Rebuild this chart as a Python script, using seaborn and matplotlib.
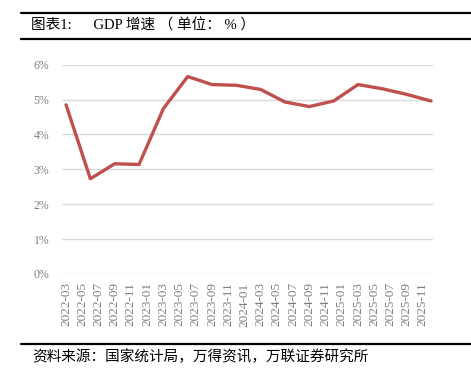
import pandas as pd
import matplotlib.pyplot as plt
import seaborn as sns

# GDP cumulative growth, quarterly (%)
quarters = ['2022-03', '2022-06', '2022-09', '2022-12',
            '2023-03', '2023-06', '2023-09', '2023-12',
            '2024-03', '2024-06', '2024-09', '2024-12',
            '2025-03', '2025-06', '2025-09', '2025-12']
gdp = [4.85, 2.73, 3.16, 3.14,
       4.74, 5.66, 5.43, 5.41,
       5.29, 4.93, 4.80, 4.96,
       5.43, 5.31, 5.15, 4.96]

# x-axis labels every two months
tick_labels = ['2022-03', '2022-05', '2022-07', '2022-09', '2022-11',
               '2023-01', '2023-03', '2023-05', '2023-07', '2023-09', '2023-11',
               '2024-01', '2024-03', '2024-05', '2024-07', '2024-09', '2024-11',
               '2025-01', '2025-03', '2025-05', '2025-07', '2025-09', '2025-11']

def month_index(s):
    y, m = s.split('-')
    return (int(y) - 2022) * 12 + int(m) - 3

df = pd.DataFrame({'month': [month_index(q) for q in quarters], 'gdp': gdp})

sns.set_style('white')
plt.rcParams['font.family'] = ['Liberation Serif', 'Noto Sans CJK SC']

fig = plt.figure(figsize=(4.71, 3.79), dpi=100)
ax = fig.add_axes([62 / 471, 1 - 274 / 379, (433 - 62) / 471, (274 - 64.7) / 379])

sns.lineplot(data=df, x='month', y='gdp', color='#c0504d', linewidth=2.4, ax=ax)

ax.set_ylim(0, 6)
ax.set_xlim(-0.5, 45.25)
ax.set_yticks(range(0, 7))
ax.set_yticklabels([f'{v}%' for v in range(0, 7)])
ax.set_xticks([month_index(t) for t in tick_labels])
ax.set_xticklabels(tick_labels, rotation=90)
ax.tick_params(axis='both', length=0, labelsize=8.5, labelcolor='#7f7f7f')
ax.tick_params(axis='x', pad=6, labelsize=9.5)
ax.tick_params(axis='y', pad=9)
ax.set_xlabel('')
ax.set_ylabel('')
ax.grid(axis='y', color='#d9d9d9', linewidth=1)
ax.set_axisbelow(True)
for s in ax.spines.values():
    s.set_visible(False)

# header / footer rules
for y in [1 - 12.7 / 379, 1 - 39.3 / 379, 1 - 344 / 379]:
    fig.add_artist(plt.Line2D([21 / 471, 1.0], [y, y], color='black', linewidth=1.6,
                              transform=fig.transFigure))

fig.text(31 / 471, 1 - 26 / 379, '图表1:      GDP 增速 （ 单位： % ）', fontsize=10.5,
         va='center', ha='left', color='black')
fig.text(32 / 471, 1 - 357 / 379, '资料来源：国家统计局，万得资讯，万联证券研究所', fontsize=10.5,
         va='center', ha='left', color='black', family=['Noto Sans CJK SC'])

fig.savefig('out.png', dpi=100)
